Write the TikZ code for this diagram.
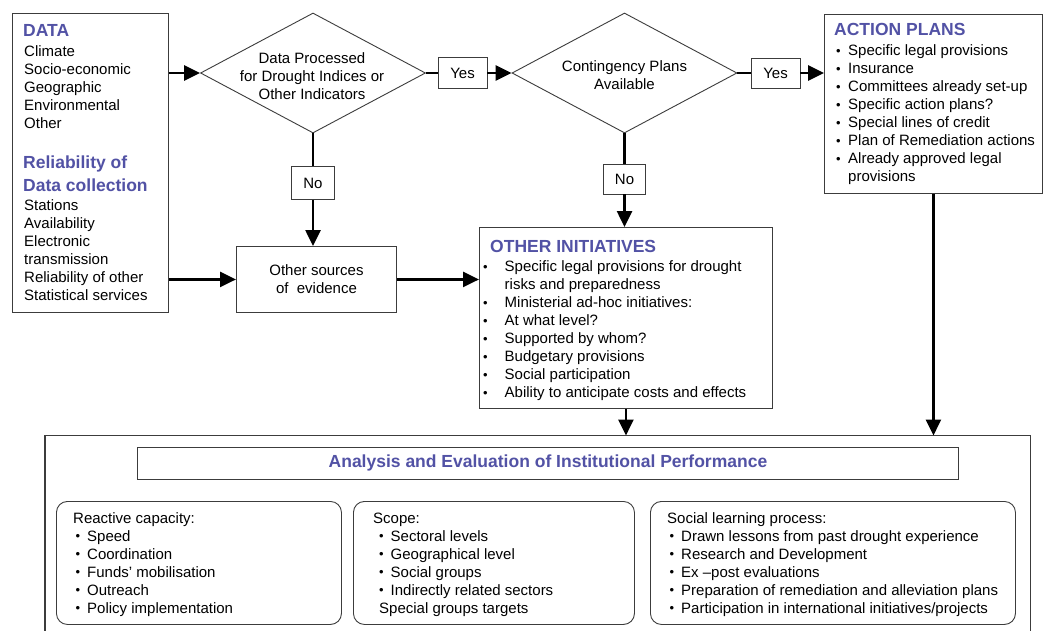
\documentclass[tikz,border=0pt]{standalone}
\usepackage{fontspec}
\setmainfont{Liberation Sans}
\usetikzlibrary{arrows.meta,shapes.geometric}
\definecolor{ttl}{RGB}{82,82,165}
\definecolor{edge}{RGB}{60,60,60}
\newcommand\nt{\fontsize{15}{18}\selectfont}
\newcommand\ttlfont{\fontsize{17.5}{22}\selectfont\bfseries\color{ttl}}
\newcommand\bl[1]{\makebox[#1][l]{\hspace*{-0.5pt}\raisebox{0.3pt}{\fontsize{13}{13}\selectfont •}}}
\begin{document}
\begin{tikzpicture}[x=1pt,y=-1pt,
  box/.style={draw=edge,line width=0.9pt,inner sep=0pt,anchor=north west},
  rbox/.style={box,rounded corners=11pt},
  dia/.style={draw=edge,line width=0.9pt,shape=diamond,inner sep=0pt,minimum width=225pt,minimum height=120pt},
  lab/.style={draw=edge,line width=0.9pt,inner sep=0pt,font=\nt},
  txt/.style={inner sep=0pt,anchor=base west,font=\nt},
  ctxt/.style={inner sep=0pt,font=\nt,align=center},
  conn/.style={line width=2.6pt},
  arr/.style={line width=2.6pt,-{Triangle[length=16pt,width=15pt]}}]
\useasboundingbox (0,0) rectangle (1043,631);
\fill[white] (0,0) rectangle (1043,631);

% DATA box
\node[box,minimum width=156pt,minimum height=299pt] (data) at (12,13) {};
\node[txt] (dataH) at (23,37) {\ttlfont DATA};
\node[txt] (dataL) at (24,57) {\begin{tabular}[t]{@{}l@{}}Climate\\Socio-economic\\Geographic\\Environmental\\Other\end{tabular}};
\node[txt] (relH) at (23,169) {\ttlfont\begin{tabular}[t]{@{}l@{}}Reliability of\\Data collection\end{tabular}};
\node[txt] (relL) at (24,210) {\begin{tabular}[t]{@{}l@{}}Stations\\Availability\\Electronic\\transmission\\Reliability of other\\Statistical services\end{tabular}};

% diamonds
\node[dia] (d1) at (313,73) {};
\node[ctxt] (d1t) at (312,76) {Data Processed\\for Drought Indices or\\Other Indicators};
\node[dia] (d2) at (624.5,73) {};
\node[ctxt] (d2t) at (624.5,75) {Contingency Plans\\Available};

% yes/no labels
\node[lab,minimum width=49pt,minimum height=31pt] (y1) at (462.5,73) {Yes};
\node[lab,minimum width=49pt,minimum height=30pt] (y2) at (775.5,73) {Yes};
\node[lab,minimum width=43pt,minimum height=33pt] (n1) at (313,183) {No};
\node[lab,minimum width=42pt,minimum height=30pt] (n2) at (624.5,179) {No};

% other sources
\node[box,minimum width=160pt,minimum height=66pt] (os) at (236,246) {};
\node[ctxt] (ost) at (os.center) {Other sources\\of\ \ evidence};

% action plans
\node[box,minimum width=218pt,minimum height=179pt] (ap) at (824,14) {};
\node[txt] (apH) at (834,36) {\ttlfont ACTION PLANS};
\node[txt] (apL) at (836.5,55.5) {\begin{tabular}[t]{@{}l@{}}
\bl{11.5pt}Specific legal provisions\\
\bl{11.5pt}Insurance\\
\bl{11.5pt}Committees already set-up\\
\bl{11.5pt}Specific action plans?\\
\bl{11.5pt}Special lines of credit\\
\bl{11.5pt}Plan of Remediation actions\\
\bl{11.5pt}Already approved legal\\
\hspace*{11.5pt}provisions\end{tabular}};

% other initiatives
\node[box,minimum width=293pt,minimum height=181pt] (oi) at (479,227) {};
\node[txt] (oiH) at (490,252) {\ttlfont OTHER INITIATIVES};
\node[txt] (oiL) at (483.5,271.5) {\begin{tabular}[t]{@{}l@{}}
\bl{21pt}Specific legal provisions for drought\\
\hspace*{21pt}risks and preparedness\\
\bl{21pt}Ministerial ad-hoc initiatives:\\
\bl{21pt}At what level?\\
\bl{21pt}Supported by whom?\\
\bl{21pt}Budgetary provisions\\
\bl{21pt}Social participation\\
\bl{21pt}Ability to anticipate costs and effects\end{tabular}};

% big evaluation box (open at the bottom edge)
\node[inner sep=0pt,anchor=north west,minimum width=985pt,minimum height=196pt] (big) at (45,435.5) {};
\draw[draw=edge,line width=1.1pt] (big.south west) -- (big.north west) -- (big.north east) -- (big.south east);
\node[box,minimum width=821pt,minimum height=32pt] (at) at (137,447) {};
\node[inner sep=0pt] (att) at (at.center) {\ttlfont Analysis and Evaluation of Institutional Performance};

\node[rbox,minimum width=285pt,minimum height=123pt] (r1) at (56,501) {};
\node[txt] (r1t) at (73,523) {\begin{tabular}[t]{@{}l@{}}Reactive capacity:\\
\hspace*{3pt}\bl{11pt}Speed\\
\hspace*{3pt}\bl{11pt}Coordination\\
\hspace*{3pt}\bl{11pt}Funds' mobilisation\\
\hspace*{3pt}\bl{11pt}Outreach\\
\hspace*{3pt}\bl{11pt}Policy implementation\end{tabular}};

\node[rbox,minimum width=281pt,minimum height=123pt] (r2) at (353,501) {};
\node[txt] (r2t) at (373,523) {\begin{tabular}[t]{@{}l@{}}Scope:\\
\hspace*{6.5pt}\bl{11pt}Sectoral levels\\
\hspace*{6.5pt}\bl{11pt}Geographical level\\
\hspace*{6.5pt}\bl{11pt}Social groups\\
\hspace*{6.5pt}\bl{11pt}Indirectly related sectors\\
\hspace*{6pt}Special groups targets\end{tabular}};

\node[rbox,minimum width=365pt,minimum height=123pt] (r3) at (650,501) {};
\node[txt] (r3t) at (667,523) {\begin{tabular}[t]{@{}l@{}}Social learning process:\\
\hspace*{3pt}\bl{11pt}Drawn lessons from past drought experience\\
\hspace*{3pt}\bl{11pt}Research and Development\\
\hspace*{3pt}\bl{11pt}Ex --post evaluations\\
\hspace*{3pt}\bl{11pt}Preparation of remediation and alleviation plans\\
\hspace*{3pt}\bl{11pt}Participation in international initiatives/projects\end{tabular}};

% connectors
\draw[arr] (data.east |- d1.west) -- (d1.west);
\draw[arr] (data.east |- os.west) -- (os.west);
\draw[conn] (d1.east) -- (d1.east -| y1.west);
\draw[arr] (y1.east) -- (d2.west);
\draw[conn] (d2.east) -- (d2.east -| y2.west);
\draw[arr] (y2.east) -- (y2.east -| ap.west);
\draw[conn] (d1.south) -- (n1.north);
\draw[arr] (n1.south) -- (n1.south |- os.north);
\draw[conn] (d2.south) -- (n2.north);
\draw[arr] (n2.south) -- (n2.south |- oi.north);
\draw[arr] (os.east) -- (os.east -| oi.west);
\draw[arr] (oi.south) -- (oi.south |- big.north);
\draw[arr] (ap.south) -- (ap.south |- big.north);
\end{tikzpicture}
\end{document}
